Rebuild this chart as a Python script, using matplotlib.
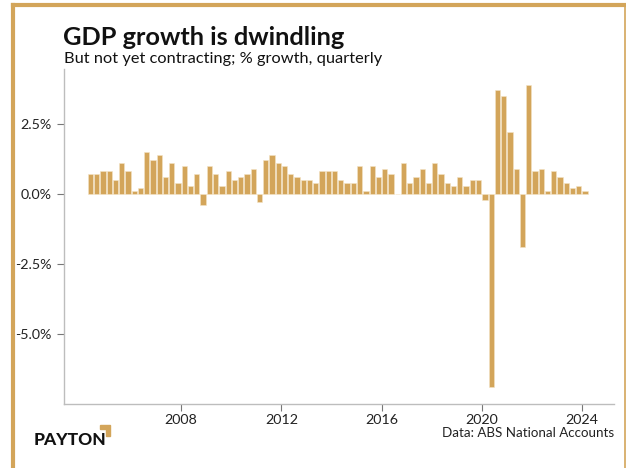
import matplotlib
matplotlib.use('Agg')
import matplotlib.pyplot as plt
from matplotlib.lines import Line2D
from matplotlib.patches import Polygon

# Australian GDP, % growth quarter on quarter, 2004Q2 .. 2024Q1
start_year = 2004
start_q = 2
growth = [0.7, 0.7, 0.8, 0.8, 0.5, 1.1, 0.8, 0.1, 0.2, 1.5, 1.2, 1.4, 0.6, 1.1, 0.4, 1.0,
          0.3, 0.7, -0.4, 1.0, 0.7, 0.3, 0.8, 0.5, 0.6, 0.7, 0.9, -0.3, 1.2, 1.4, 1.1, 1.0,
          0.7, 0.6, 0.5, 0.5, 0.4, 0.8, 0.8, 0.8, 0.5, 0.4, 0.4, 1.0, 0.1, 1.0, 0.6, 0.9,
          0.7, 0.0, 1.1, 0.4, 0.6, 0.9, 0.4, 1.1, 0.7, 0.4, 0.3, 0.6, 0.3, 0.5, 0.5, -0.2,
          -6.9, 3.7, 3.5, 2.2, 0.9, -1.9, 3.9, 0.8, 0.9, 0.1, 0.8, 0.6, 0.4, 0.2, 0.3, 0.1]
year_ticks = [2008, 2012, 2016, 2020, 2024]
pct_ticks = [2.5, 0.0, -2.5, -5.0]

# mid-quarter position in decimal years
x = [start_year + (start_q - 1 + i) * 0.25 + 0.125 for i in range(len(growth))]

gold = '#D3A55A'
grey = '#BDBDBD'
plt.rcParams['font.family'] = ['Lato', 'DejaVu Sans']

fig = plt.figure(figsize=(6.26, 4.68), dpi=100)
ax = fig.add_axes([0.1022, 0.1368, 0.8786, 0.7158])

ax.bar(x, growth, width=0.21, color=gold, edgecolor='#F3E3C6', linewidth=0.4)

ax.set_xlim(2003.32, 2025.28)
ax.set_ylim(-7.5, 4.46)
ax.set_xticks(year_ticks)
ax.set_xticklabels([str(y) for y in year_ticks])
ax.set_yticks(pct_ticks)
ax.set_yticklabels([f'{v:.1f}%' for v in pct_ticks])

for s in ['top', 'right']:
    ax.spines[s].set_visible(False)
for s in ['left', 'bottom']:
    ax.spines[s].set_color(grey)
    ax.spines[s].set_linewidth(1.0)
ax.tick_params(axis='both', colors='#777777', labelcolor='#222222',
               labelsize=10.3, length=5, width=0.8)
ax.tick_params(axis='y', pad=4)
ax.tick_params(axis='x', pad=2)

# title block
fig.text(0.101, 0.904, 'GDP growth is dwindling', fontsize=18.3, fontweight='bold',
         color='#111111', va='baseline')
fig.text(0.102, 0.866, 'But not yet contracting; % growth, quarterly', fontsize=11.8,
         color='#111111', va='baseline')

# source + logo
fig.text(0.981, 0.066, 'Data: ABS National Accounts', fontsize=9.6, color='#222222',
         ha='right', va='baseline')
fig.text(0.053, 0.050, 'PAYTON', fontsize=12.5, fontweight='black', color='#111111',
         va='baseline')
W, H = 626, 468
bracket = [(100, 425), (110, 425), (110, 436), (106, 436), (106, 429), (100, 429)]
fig.patches.append(Polygon([(px / W, 1 - py / H) for px, py in bracket], closed=True,
                           transform=fig.transFigure, color=gold))

# card frame
for xs, ys, lw in [([13 / W, 13 / W], [0, 1 - 5 / H], 3),
                   ([13 / W, 1], [1 - 5 / H, 1 - 5 / H], 3),
                   ([625 / W, 625 / W], [0, 1 - 5 / H], 1.2)]:
    fig.add_artist(Line2D(xs, ys, transform=fig.transFigure, color=gold, lw=lw))

fig.savefig('out.png', dpi=100)
